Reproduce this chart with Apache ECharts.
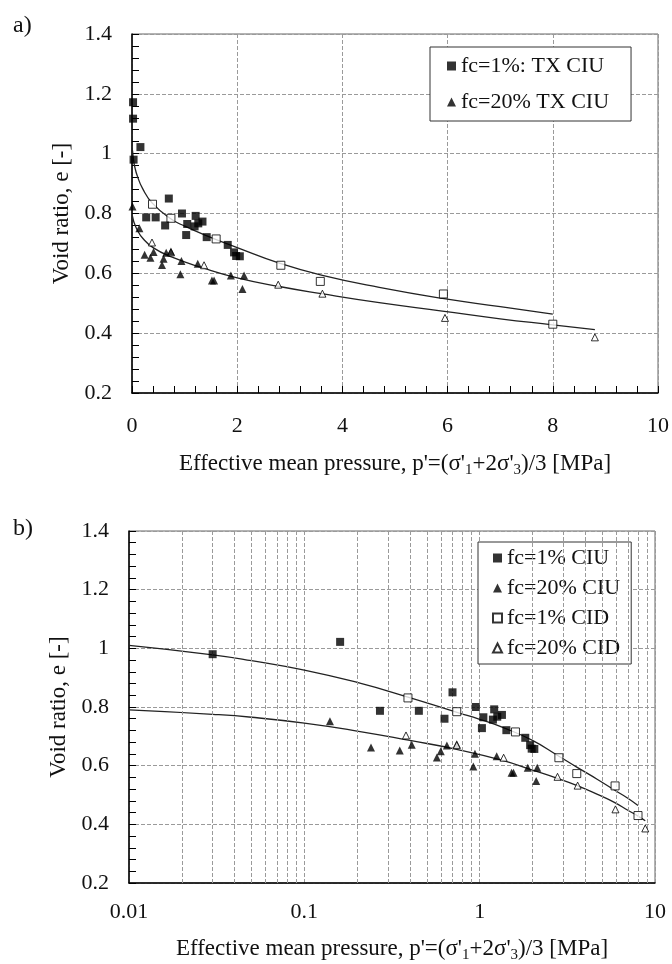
<!DOCTYPE html>
<html>
<head>
<meta charset="utf-8">
<script src="https://cdn.jsdelivr.net/npm/echarts@6/dist/echarts.min.js"></script>
<style>
  html, body { margin: 0; padding: 0; background: #fff; }
  #chart { width: 672px; height: 964px; }
</style>
</head>
<body>
<div id="chart"></div>
<script>
// ---- Data ----
// p' [MPa], void ratio e [-]
const ciu1 = [[0.03,0.98],[0.16,1.022],[0.27,0.787],[0.45,0.787],[0.63,0.76],[0.70,0.85],[0.95,0.80],[1.05,0.765],[1.03,0.728],[1.21,0.792],[1.19,0.757],[1.26,0.767],[1.34,0.773],[1.42,0.721],[1.82,0.695],[1.94,0.67],[2.05,0.657],[1.98,0.658]];
const ciu1NearZero = [[0.02,1.172],[0.02,1.117]];          // only visible in panel a
const ciu20 = [[0.14,0.751],[0.24,0.662],[0.35,0.652],[0.41,0.671],[0.57,0.628],[0.60,0.649],[0.65,0.669],[0.74,0.673],[0.94,0.641],[0.92,0.597],[1.25,0.632],[1.52,0.576],[1.56,0.576],[1.88,0.593],[2.13,0.593],[2.10,0.548]];
const ciu20NearZero = [[0.01,0.823]];                       // only visible in panel a
const cid1 = [[0.39,0.831],[0.74,0.784],[1.6,0.715],[2.83,0.627],[3.58,0.573],[5.92,0.531],[8.0,0.43]];
const cid20 = [[0.38,0.703],[0.74,0.670],[1.37,0.627],[2.78,0.562],[3.62,0.532],[5.95,0.451],[8.8,0.386]];
const fit1 = [[0.01,1.01],[0.03,0.978],[0.05,0.958],[0.1,0.926],[0.2,0.884],[0.39,0.834],[0.75,0.781],[1.0,0.758],[1.4,0.727],[2.0,0.686],[2.8,0.634],[3.6,0.594],[4.7,0.553],[5.9,0.516],[7.0,0.489],[8.0,0.464]];
const fit20 = [[0.01,0.79],[0.03,0.775],[0.05,0.765],[0.1,0.745],[0.2,0.718],[0.4,0.686],[0.75,0.655],[1.35,0.618],[2.0,0.585],[2.8,0.556],[3.6,0.532],[4.7,0.502],[5.9,0.474],[7.0,0.448],[8.0,0.428],[8.8,0.412]];
const logMinorGrid = [0.02,0.03,0.04,0.05,0.06,0.07,0.08,0.09,0.2,0.3,0.4,0.5,0.6,0.7,0.8,0.9,2,3,4,5,6,7,8,9];

const legendA = ['fc=1%: TX CIU', 'fc=20% TX CIU'];
const legendB = ['fc=1% CIU', 'fc=20% CIU', 'fc=1% CID', 'fc=20% CID'];
const xTitle = "Effective mean pressure, p'=(σ'{s|1}+2σ'{s|3})/3 [MPa]";
const yTitle = 'Void ratio, e [-]';

// ---- Styles ----
const FONT = "'Liberation Serif', 'DejaVu Serif', serif";
const TXT = '#111';
const gridLine = { show: true, lineStyle: { color: '#9a9a9a', type: [4, 2], width: 1 } };
const nameStyle = {
  fontFamily: FONT, fontSize: 23, color: TXT, lineHeight: 28,
  rich: { s: { fontFamily: FONT, fontSize: 15, lineHeight: 15, verticalAlign: 'bottom', color: TXT } }
};
const labelStyle = { fontFamily: FONT, fontSize: 22, color: TXT };

function yAxis(gridIndex, gap) {
  return {
    type: 'value', gridIndex, min: 0.2, max: 1.4, interval: 0.2,
    name: yTitle, nameLocation: 'middle', nameRotate: 90, nameGap: gap,
    nameTextStyle: { fontFamily: FONT, fontSize: 23, color: TXT },
    axisLine: { show: true, lineStyle: { color: '#000', width: 1.5 } },
    axisTick: { show: true, inside: true, length: 7, lineStyle: { color: '#000' } },
    minorTick: { show: true, splitNumber: 5, length: 7, lineStyle: { color: '#000' } },
    axisLabel: Object.assign({ margin: 20 }, labelStyle),
    splitLine: gridLine
  };
}

const openSquare = { color: '#fff', borderColor: '#000', borderWidth: 1 };
const filled = { color: '#000' };

function fitSeries(data, xi, extra) {
  return Object.assign({
    type: 'line', data, xAxisIndex: xi, yAxisIndex: xi,
    showSymbol: false, symbol: 'none', smooth: 0.5,
    lineStyle: { color: '#222', width: 1.3 }, z: 2, silent: true, animation: false
  }, extra || {});
}
function scat(name, data, xi, symbol, size, style) {
  return {
    name, type: 'scatter', data, xAxisIndex: xi, yAxisIndex: xi,
    symbol, symbolSize: size, itemStyle: style, z: 5, animation: false
  };
}

const chart = echarts.init(document.getElementById('chart'), null, { renderer: 'canvas' });
chart.setOption({
  animation: false,
  backgroundColor: '#fff',
  textStyle: { fontFamily: FONT },
  graphic: [
    { type: 'text', left: 13, top: 14, style: { text: 'a)', font: "24px 'Liberation Serif', serif", fill: TXT } },
    { type: 'text', left: 13, top: 517, style: { text: 'b)', font: "24px 'Liberation Serif', serif", fill: TXT } }
  ],
  grid: [
    { left: 132, right: 14, top: 34, height: 359, show: true, borderColor: '#666', borderWidth: 1, containLabel: false },
    { left: 129, right: 17, top: 531, height: 357, show: true, borderColor: '#666', borderWidth: 1, containLabel: false }
  ],
  legend: [
    {
      data: legendA, orient: 'vertical', left: 430, top: 47,
      backgroundColor: '#fff', borderColor: '#333', borderWidth: 1,
      padding: [6, 22, 6, 17], itemGap: 10, itemWidth: 9, itemHeight: 9,
      textStyle: { fontFamily: FONT, fontSize: 22, color: TXT, lineHeight: 26 },
      selectedMode: false
    },
    {
      data: legendB, orient: 'vertical', left: 478, top: 542,
      backgroundColor: '#fff', borderColor: '#333', borderWidth: 1,
      padding: [4, 11, 4, 14], itemGap: 6, itemWidth: 9, itemHeight: 9,
      textStyle: { fontFamily: FONT, fontSize: 22, color: TXT, lineHeight: 24 },
      selectedMode: false
    }
  ],
  xAxis: [
    {
      type: 'value', gridIndex: 0, min: 0, max: 10, interval: 2,
      name: xTitle, nameLocation: 'middle', nameGap: 57, nameTextStyle: nameStyle,
      axisLine: { show: true, onZero: false, lineStyle: { color: '#000', width: 1.5 } },
      axisTick: { show: true, inside: true, length: 7, lineStyle: { color: '#000' } },
      minorTick: { show: true, splitNumber: 5, length: 7, lineStyle: { color: '#000' } },
      axisLabel: Object.assign({ margin: 22 }, labelStyle),
      splitLine: gridLine
    },
    {
      type: 'log', logBase: 10, gridIndex: 1, min: 0.01, max: 10,
      name: xTitle, nameLocation: 'middle', nameGap: 52, nameTextStyle: nameStyle,
      axisLine: { show: true, onZero: false, lineStyle: { color: '#000', width: 1.5 } },
      axisTick: { show: false },
      axisLabel: Object.assign({ margin: 18 }, labelStyle),
      splitLine: gridLine
    }
  ],
  yAxis: [yAxis(0, 54), yAxis(1, 52)],
  series: [
    // panel a
    fitSeries(fit1, 0),
    fitSeries(fit20, 0),
    scat('fc=1% CID', cid1, 0, 'rect', 8, openSquare),
    scat('fc=20% CID', cid20, 0, 'triangle', 7, openSquare),
    scat('fc=1%: TX CIU', ciu1NearZero.concat(ciu1), 0, 'rect', 8, filled),
    scat('fc=20% TX CIU', ciu20NearZero.concat(ciu20), 0, 'triangle', 8, filled),
    // panel b
    fitSeries(fit1, 1, {
      markLine: {
        silent: true, symbol: ['none', 'none'], label: { show: false }, animation: false,
        lineStyle: { color: '#9a9a9a', type: [4, 2], width: 1 },
        emphasis: { disabled: true },
        data: logMinorGrid.map(v => ({ xAxis: v }))
      }
    }),
    fitSeries(fit20, 1),
    scat('fc=1% CIU', ciu1, 1, 'rect', 8, filled),
    scat('fc=20% CIU', ciu20, 1, 'triangle', 8, filled),
    scat('fc=1% CID', cid1, 1, 'rect', 8, openSquare),
    scat('fc=20% CID', cid20, 1, 'triangle', 7, openSquare)
  ]
});
</script>
</body>
</html>
